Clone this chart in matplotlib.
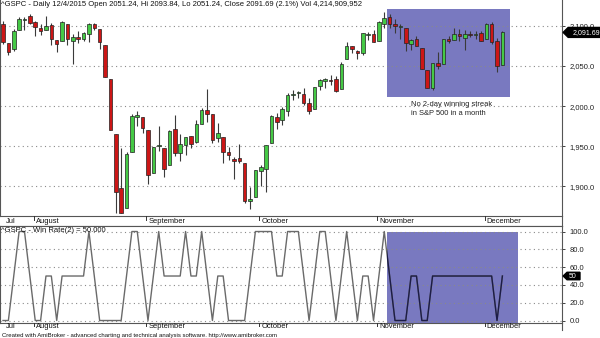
import matplotlib
matplotlib.use('Agg')
import matplotlib.pyplot as plt
from matplotlib.patches import Rectangle, Polygon
from matplotlib.transforms import blended_transform_factory
from matplotlib.ticker import FuncFormatter

plt.rcParams['font.family'] = ['Liberation Sans', 'DejaVu Sans']

# ---------------- data (S&P 500 daily, 24 Jul - 4 Dec 2015) ----------------
dates = ['07-24', '07-27', '07-28', '07-29', '07-30', '07-31',
         '08-03', '08-04', '08-05', '08-06', '08-07', '08-10', '08-11', '08-12', '08-13', '08-14',
         '08-17', '08-18', '08-19', '08-20', '08-21', '08-24', '08-25', '08-26', '08-27', '08-28', '08-31',
         '09-01', '09-02', '09-03', '09-04', '09-08', '09-09', '09-10', '09-11', '09-14', '09-15',
         '09-16', '09-17', '09-18', '09-21', '09-22', '09-23', '09-24', '09-25', '09-28', '09-29', '09-30',
         '10-01', '10-02', '10-05', '10-06', '10-07', '10-08', '10-09', '10-12', '10-13', '10-14', '10-15',
         '10-16', '10-19', '10-20', '10-21', '10-22', '10-23', '10-26', '10-27', '10-28', '10-29', '10-30',
         '11-02', '11-03', '11-04', '11-05', '11-06', '11-09', '11-10', '11-11', '11-12', '11-13',
         '11-16', '11-17', '11-18', '11-19', '11-20', '11-23', '11-24', '11-25', '11-27', '11-30',
         '12-01', '12-02', '12-03', '12-04']

opens = [2102.2, 2078.2, 2070.8, 2094.7, 2106.8, 2111.6,
         2104.5, 2097.7, 2095.3, 2100.8, 2082.6, 2081.0, 2102.7, 2081.1, 2086.2, 2083.2,
         2089.7, 2102.0, 2095.7, 2076.6, 2034.1, 1965.2, 1898.1, 1872.8, 1942.8, 1986.1, 1986.7,
         1970.1, 1916.5, 1950.8, 1947.8, 1927.3, 1971.5, 1941.6, 1951.5, 1963.1, 1955.1,
         1978.0, 1995.3, 1989.7, 1960.8, 1961.4, 1943.2, 1934.8, 1935.9, 1929.2, 1881.9, 1887.1,
         1919.7, 1921.8, 1954.3, 1986.6, 1982.3, 1994.0, 2013.7, 2015.7, 2015.0, 2003.7, 1996.5,
         2024.4, 2031.7, 2033.1, 2033.5, 2021.9, 2058.2, 2075.1, 2068.8, 2066.5, 2088.4, 2090.0,
         2080.8, 2102.6, 2110.6, 2101.7, 2098.6, 2096.6, 2077.2, 2083.4, 2072.3, 2044.6,
         2022.1, 2053.7, 2052.0, 2083.7, 2082.8, 2089.4, 2084.4, 2089.3, 2088.8, 2091.0,
         2082.9, 2101.7, 2080.7, 2051.24]

highs = [2106.0, 2078.2, 2095.6, 2110.6, 2110.5, 2114.2,
         2105.7, 2102.5, 2112.7, 2103.3, 2082.6, 2105.4, 2102.7, 2089.1, 2092.9, 2092.5,
         2102.9, 2103.5, 2096.2, 2076.6, 2034.1, 1965.2, 1948.0, 1943.1, 1989.6, 1993.5, 1986.7,
         1970.1, 1948.9, 1975.0, 1947.8, 1970.4, 1988.6, 1965.3, 1961.1, 1963.1, 1983.2,
         1997.3, 2020.9, 1989.7, 1979.6, 1961.4, 1949.5, 1937.2, 1952.9, 1929.2, 1899.5, 1920.5,
         1927.2, 1951.4, 1989.2, 1991.6, 1999.3, 2016.5, 2020.1, 2018.7, 2022.3, 2009.6, 2024.2,
         2033.5, 2034.5, 2039.1, 2038.0, 2055.2, 2079.7, 2075.1, 2070.4, 2090.4, 2092.5, 2094.3,
         2106.2, 2116.5, 2114.6, 2108.8, 2101.9, 2096.6, 2083.7, 2086.9, 2072.3, 2044.6,
         2053.2, 2066.7, 2083.6, 2086.7, 2097.1, 2095.6, 2094.1, 2093.0, 2093.3, 2093.8,
         2103.4, 2104.3, 2085.0, 2093.84]

lows = [2077.1, 2063.5, 2069.1, 2094.1, 2095.0, 2102.1,
        2087.3, 2088.6, 2095.3, 2075.5, 2067.9, 2081.0, 2076.5, 2052.1, 2078.3, 2080.6,
        2079.3, 2094.1, 2070.5, 2035.7, 1970.9, 1867.0, 1867.1, 1872.8, 1942.8, 1975.2, 1966.0,
        1903.1, 1916.5, 1944.7, 1911.2, 1927.3, 1937.9, 1932.0, 1939.2, 1948.3, 1954.3,
        1977.9, 1980.5, 1953.5, 1955.8, 1929.2, 1932.6, 1908.9, 1928.8, 1879.2, 1871.9, 1887.1,
        1900.7, 1893.7, 1954.3, 1972.0, 1976.4, 1987.5, 2007.6, 2010.6, 2001.8, 1990.7, 1996.5,
        2020.5, 2022.3, 2026.6, 2017.2, 2021.9, 2058.2, 2066.5, 2058.8, 2063.1, 2082.6, 2079.3,
        2080.8, 2097.5, 2097.0, 2090.4, 2083.7, 2068.2, 2069.9, 2074.9, 2045.7, 2022.0,
        2019.9, 2045.9, 2052.0, 2078.8, 2082.8, 2081.4, 2070.3, 2086.3, 2084.1, 2080.4,
        2082.9, 2077.1, 2042.4, 2051.24]

closes = [2079.7, 2067.6, 2093.3, 2108.6, 2108.6, 2103.8,
          2098.0, 2093.3, 2099.8, 2083.6, 2077.6, 2104.2, 2084.1, 2086.1, 2083.4, 2091.5,
          2102.4, 2096.9, 2079.6, 2035.7, 1970.9, 1893.2, 1867.6, 1940.5, 1987.7, 1988.9, 1972.2,
          1913.9, 1948.9, 1951.1, 1921.2, 1969.4, 1942.0, 1952.3, 1961.1, 1953.0, 1978.1,
          1995.3, 1990.2, 1958.0, 1967.0, 1942.7, 1938.8, 1932.2, 1931.3, 1881.8, 1884.1, 1920.0,
          1923.8, 1951.4, 1987.1, 1979.9, 1995.8, 2013.4, 2014.9, 2017.5, 2003.7, 1994.2, 2023.9,
          2033.1, 2033.7, 2030.8, 2018.9, 2052.5, 2075.2, 2071.2, 2065.9, 2090.4, 2089.4, 2079.4,
          2104.1, 2109.8, 2102.3, 2099.9, 2099.2, 2078.6, 2081.7, 2075.0, 2046.0, 2023.0,
          2053.2, 2050.4, 2083.6, 2081.2, 2089.2, 2086.6, 2089.1, 2088.9, 2090.1, 2080.4,
          2102.6, 2079.5, 2049.6, 2091.69]

win_rate = [0, 0, 50, 100, 100, 50,
            0, 0, 50, 50, 0, 50, 50, 50, 50, 50,
            100, 50, 0, 0, 0, 0, 0, 50, 100, 100, 50,
            0, 50, 100, 50, 50, 50, 50, 100, 50, 50,
            100, 50, 0, 50, 50, 0, 0, 0, 0, 50, 100,
            100, 100, 100, 50, 50, 100, 100, 100, 50, 0, 50,
            100, 100, 50, 0, 50, 100, 50, 0, 50, 50, 0,
            50, 100, 50, 0, 0, 0, 50, 50, 0, 0,
            50, 50, 50, 50, 50, 50, 50, 50, 50, 50,
            50, 50, 0, 50]

month_names = ['Jul', 'August', 'September', 'October', 'November', 'December']
month_first = ['07-24', '08-03', '09-01', '10-01', '11-02', '12-01']
price_ticks = [1900, 1950, 2000, 2050, 2100]
wr_ticks = [0, 20, 40, 60, 80, 100]
highlight_dates = ['11-04', '12-04']

title_top = ("^GSPC - Daily 12/4/2015 Open 2051.24, Hi 2093.84, Lo 2051.24, "
             "Close 2091.69 (2.1%) Vol 4,214,909,952")
title_bottom = "^GSPC - Win Rate(2) = 50.000"
note = "No 2-day winning streak\nin S&P 500 in a month"
footer = ("Created with AmiBroker - advanced charting and technical analysis software. "
          "http://www.amibroker.com")

# ---------------- figure ----------------
W, H = 600, 338
fig = plt.figure(figsize=(6.0, 3.38), dpi=100)

def rect_px(x0, y0, x1, y1):
    return [x0 / W, 1 - y1 / H, (x1 - x0) / W, (y1 - y0) / H]

ax1 = fig.add_axes(rect_px(0, 0, 562, 216))
strip1 = fig.add_axes(rect_px(0, 216, 562, 226))
ax2 = fig.add_axes(rect_px(0, 226, 562, 323))
strip2 = fig.add_axes(rect_px(0, 323, 562, 330))

n = len(dates)
xs = list(range(n))
XL = (-0.56, 104.1)

BLUE = '#7979C0'
GRID = dict(color='#8a8a8a', linestyle=(0, (1, 3)), linewidth=0.8)

# ---- price panel ----
ax1.set_xlim(*XL)
ax1.set_ylim(1863.3, 2132.0)
ax1.set_axisbelow('line')
ax1.yaxis.grid(True, **GRID)
ax1.xaxis.grid(False)

hs = dates.index(highlight_dates[0]) - 0.45
he = dates.index(highlight_dates[1]) + 1.45
ax1.add_patch(Rectangle((hs, 2011.3), he - hs, 2120.8 - 2011.3,
                        facecolor=BLUE, edgecolor='none', zorder=1))

ax1.vlines(xs, lows, highs, color='#3a3a3a', linewidth=0.8, zorder=2)
for i in xs:
    o, c = opens[i], closes[i]
    col = '#45C945' if c >= o else '#CC1616'
    h = c - o
    if abs(h) < 0.6:
        h = 0.6 if h >= 0 else -0.6
    ax1.bar(i, h, bottom=o, width=0.66, color=col, edgecolor='#222222',
            linewidth=0.5, zorder=3)

ax1.yaxis.tick_right()
ax1.set_yticks(price_ticks)
ax1.yaxis.set_major_formatter(FuncFormatter(lambda v, p: f"{v:,.1f}"))
ax1.tick_params(axis='y', direction='out', length=2.5, width=0.6, pad=3,
                labelsize=5.5, colors='#222222')
ax1.set_xticks([])
ax1.spines['top'].set_visible(False)
for s in ['left', 'right', 'bottom']:
    ax1.spines[s].set_linewidth(0.8)
    ax1.spines[s].set_color('#555555')

ax1.text(0.002, 0.978, title_top, transform=ax1.transAxes, fontsize=5.5,
         ha='left', va='center', color='#111111')
ax1.text(76.0, 2100 - (101 - 25.7) / 0.804, note, fontsize=5.4,
         ha='left', va='top', color='#222222', linespacing=1.35)

# last price marker
bt = blended_transform_factory(ax1.transAxes, ax1.transData)
lp = closes[-1]
ax1.add_patch(Polygon([(1.002, lp), (1.011, lp + 6.2), (1.08, lp + 6.2),
                       (1.08, lp - 6.2), (1.011, lp - 6.2)], closed=True,
                      transform=bt, facecolor='black', edgecolor='black',
                      clip_on=False, zorder=5))
ax1.text(1.043, lp, f"{lp:,.2f}", transform=bt, color='white', fontsize=5,
         ha='center', va='center', clip_on=False, zorder=6)

# ---- win-rate panel ----
ax2.set_xlim(*XL)
ax2.set_ylim(-2.8, 106.2)
ax2.set_axisbelow('line')
ax2.yaxis.grid(True, **GRID)
r2 = Rectangle((hs, -2.6), 95.9 - hs, 102.6, facecolor=BLUE,
               edgecolor='none', zorder=1)
ax2.add_patch(r2)
ax2.plot(xs, win_rate, color='#6a6a6a', linewidth=1.0, zorder=3)
ln, = ax2.plot(xs, win_rate, color='#1c1c48', linewidth=1.0, zorder=4)
ln.set_clip_path(r2)

ax2.yaxis.tick_right()
ax2.set_yticks(wr_ticks)
ax2.yaxis.set_major_formatter(FuncFormatter(lambda v, p: f"{v:.1f}"))
ax2.tick_params(axis='y', direction='out', length=2.5, width=0.6, pad=3,
                labelsize=5.5, colors='#222222')
ax2.set_xticks([])
for s in ['left', 'right', 'bottom', 'top']:
    ax2.spines[s].set_linewidth(0.8)
    ax2.spines[s].set_color('#555555')
ax2.text(0.002, 1.0 - 4.0 / 97, title_bottom, transform=ax2.transAxes,
         fontsize=5.5, ha='left', va='center', color='#111111')

bt2 = blended_transform_factory(ax2.transAxes, ax2.transData)
wv = win_rate[-1]
ax2.add_patch(Polygon([(1.002, wv), (1.009, wv + 4.2), (1.032, wv + 4.2),
                       (1.032, wv - 4.2), (1.009, wv - 4.2)], closed=True,
                      transform=bt2, facecolor='black', edgecolor='black',
                      clip_on=False, zorder=5))
ax2.text(1.019, wv, f"{wv:.0f}", transform=bt2, color='white', fontsize=5,
         ha='center', va='center', clip_on=False, zorder=6)

# ---- month strips ----
for st in (strip1, strip2):
    st.set_xlim(*XL)
    st.set_ylim(0, 1)
    st.set_xticks([])
    st.set_yticks([])
    for s in ['top', 'bottom', 'left']:
        st.spines[s].set_visible(False)
    st.spines['right'].set_linewidth(0.8)
    st.spines['right'].set_color('#555555')
    st.patch.set_alpha(0)
    for k, (name, d) in enumerate(zip(month_names, month_first)):
        idx = dates.index(d)
        if k == 0:
            st.text(idx + 0.5, 0.45, name, fontsize=5.4, ha='left', va='center',
                    color='#111111')
        else:
            st.plot([idx - 0.3, idx - 0.3], [0.62, 1.0], color='#333333',
                    linewidth=0.7)
            st.text(idx + 0.1, 0.45, name, fontsize=5.4, ha='left', va='center',
                    color='#111111')
strip1.spines['bottom'].set_visible(True)
strip1.spines['bottom'].set_linewidth(0.8)
strip1.spines['bottom'].set_color('#555555')

fig.text(2 / W, 1 - 335 / H, footer, fontsize=4.3, ha='left', va='center',
         color='#111111')

fig.savefig('out.png', dpi=100)
